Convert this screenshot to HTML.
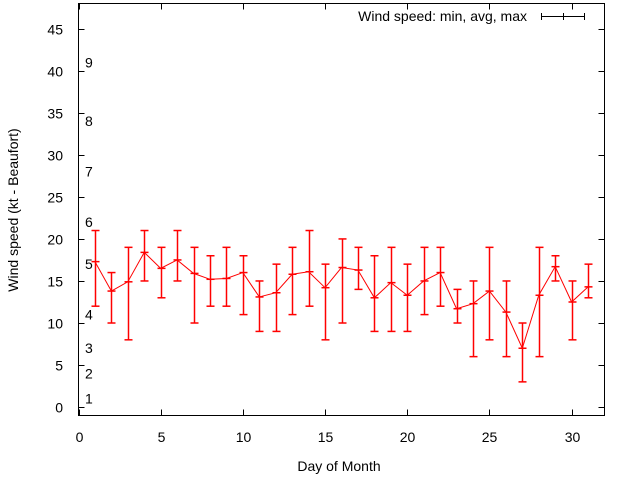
<!DOCTYPE html>
<html><head><meta charset="utf-8"><style>
body{margin:0;background:#fff}
svg{display:block;font-family:"Liberation Sans",sans-serif;font-size:14px}
</style></head><body>
<svg id="c" width="640" height="480">
<rect x="78.5" y="3.5" width="526" height="412" fill="none" stroke="#000"/>
<g id="axes"></g>
<g id="series"></g>
<text x="18" y="210" transform="rotate(-90 18 210)" text-anchor="middle" fill="#000">Wind speed (kt - Beaufort)</text>
<text x="339" y="471" text-anchor="middle" fill="#000">Day of Month</text>
<g>
<text x="527" y="21" text-anchor="end" fill="#000">Wind speed: min, avg, max</text>
<line x1="541" y1="16.5" x2="585" y2="16.5" stroke="#000"/>
<line x1="541.5" y1="13" x2="541.5" y2="20" stroke="#000"/>
<line x1="584.5" y1="13" x2="584.5" y2="20" stroke="#000"/>
<line x1="563.5" y1="13" x2="563.5" y2="20" stroke="#000"/>
</g>
</svg>
<script>
const days=[1,2,3,4,5,6,7,8,9,10,11,12,13,14,15,16,17,18,19,20,21,22,23,24,25,26,27,28,29,30,31];
const avgSpeed=[17.3,13.8,14.9,18.4,16.5,17.5,15.9,15.2,15.3,16.0,13.1,13.6,15.8,16.1,14.2,16.6,16.3,13.0,14.8,13.3,15.0,16.0,11.7,12.3,13.8,11.3,7.0,13.3,16.7,12.5,14.3];
const minSpeed=[12,10,8,15,13,15,10,12,12,11,9,9,11,12,8,10,14,9,9,9,11,12,10,6,8,6,3,6,15,8,13];
const maxSpeed=[21,16,19,21,19,21,19,18,19,18,15,17,19,21,17,20,19,18,19,17,19,19,14,15,19,15,10,19,18,15,17];
const xTicks=[0,5,10,15,20,25,30];
const yTicks=[0,5,10,15,20,25,30,35,40,45];
const beaufortLabels=["1","2","3","4","5","6","7","8","9"];
const beaufortKt=[1,4,7,11,17,22,28,34,41];
const X0=78.5,X1=604.5,Y0=415.5,Y1=3.5,xmin=0,xmax=32,ymin=-1,ymax=48;
const sx=v=>X0+(v-xmin)/(xmax-xmin)*(X1-X0);
const sy=v=>Y0-(v-ymin)/(ymax-ymin)*(Y0-Y1);
const NS="http://www.w3.org/2000/svg";
function mk(t,a,p){const e=document.createElementNS(NS,t);for(const k in a)e.setAttribute(k,a[k]);p.appendChild(e);return e;}
const ax=document.getElementById('axes'),se=document.getElementById('series');
xTicks.forEach(v=>{const x=Math.round(sx(v))+0.5;
const l=mk('line',{x1:x,x2:x,y1:Y0,y2:Y0-6,stroke:'#000'},ax);


mk('line',{x1:x,x2:x,y1:Y1,y2:Y1+6,stroke:'#000'},ax);
const t=mk('text',{x:x,y:442,'text-anchor':'middle',fill:'#000'},ax);t.textContent=v;

});
yTicks.forEach(v=>{const y=Math.round(sy(v))+0.5;
const l=mk('line',{x1:X0,x2:X0+6,y1:y,y2:y,stroke:'#000'},ax);


mk('line',{x1:X1,x2:X1-6,y1:y,y2:y,stroke:'#000'},ax);
const t=mk('text',{x:63,y:y+5,'text-anchor':'end',fill:'#000'},ax);t.textContent=v;

});
beaufortLabels.forEach((s,i)=>{const t=mk('text',{x:85,y:sy(beaufortKt[i])+5,fill:'#000'},ax);t.textContent=s;

});
mk('polyline',{points:days.map((d,i)=>sx(d)+','+sy(avgSpeed[i])).join(' '),fill:'none',stroke:'#f00'},se);
days.forEach((d,i)=>{const x=Math.round(sx(d))+0.5,yl=sy(minSpeed[i]),yh=sy(maxSpeed[i]),ya=sy(avgSpeed[i]);
const g=mk('g',{stroke:'#f00','stroke-width':1.5},se);


mk('line',{x1:x,x2:x,y1:yl,y2:yh},g);
mk('line',{x1:x-4,x2:x+4,y1:yl,y2:yl},g);
mk('line',{x1:x-4,x2:x+4,y1:yh,y2:yh},g);
mk('line',{x1:x-4,x2:x+4,y1:ya,y2:ya},g);});
</script>
</body></html>
